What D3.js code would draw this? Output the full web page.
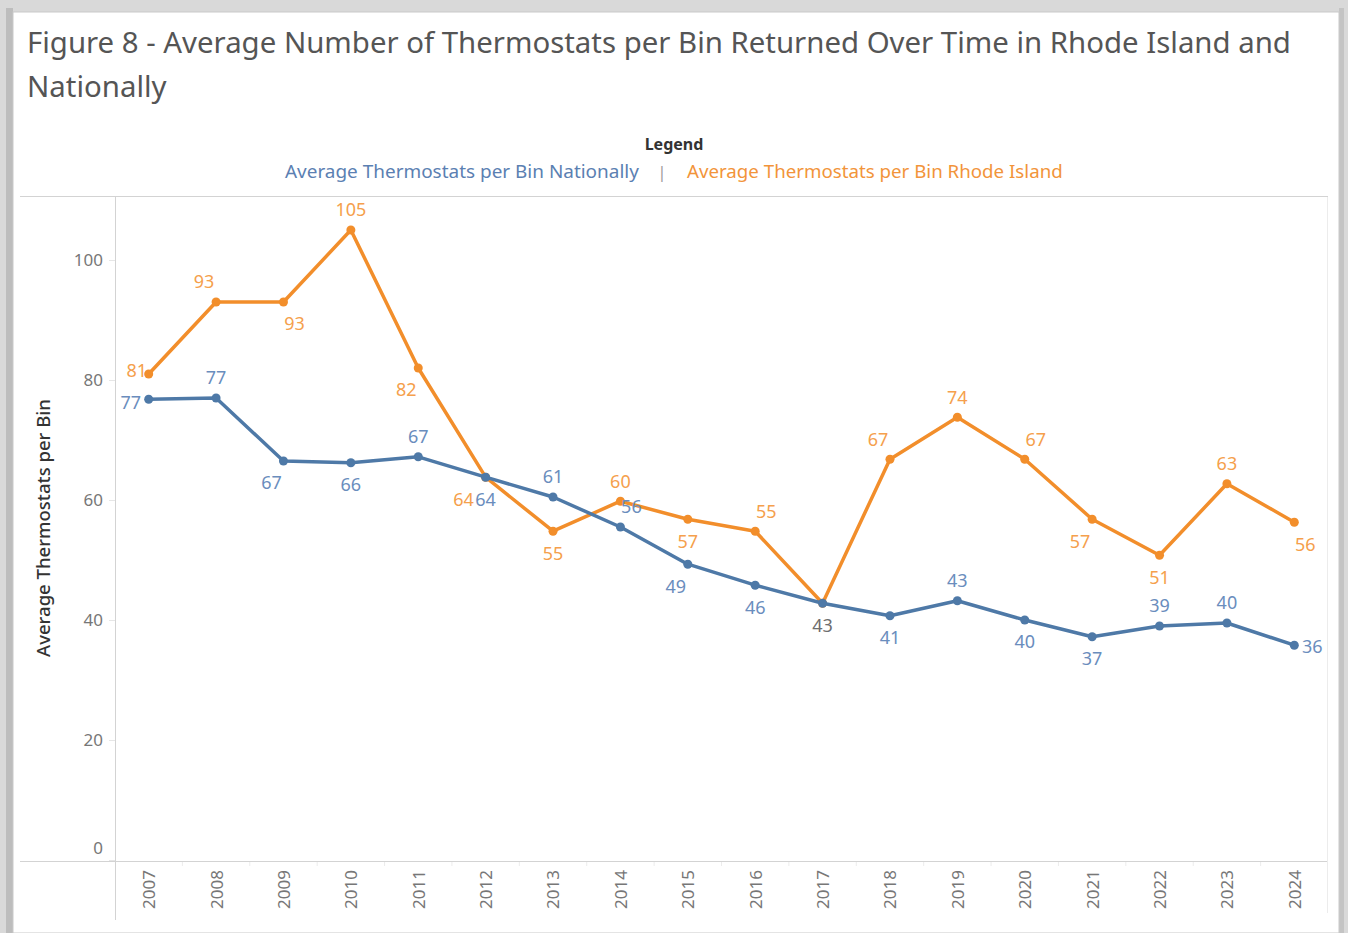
<meta charset="utf-8">
<html>
<head>
  <script src="https://d3js.org/d3.v7.min.js"></script>
  <style>
    body { margin: 0; background: #d4d4d4; overflow: hidden; }
    text { font-family: "Noto Sans", "Open Sans", sans-serif; }
  </style>
</head>
<body>
  <svg id="svg" width="1348" height="933"></svg>
  <script>
    // data
    let years = ["2007", "2008", "2009", "2010", "2011", "2012", "2013", "2014", "2015",
                 "2016", "2017", "2018", "2019", "2020", "2021", "2022", "2023", "2024"];
    let national = [76.8, 77.0, 66.5, 66.2, 67.2, 63.8, 60.5, 55.5, 49.3, 45.8, 42.8, 40.7, 43.2, 40.0, 37.2, 39.0, 39.5, 35.8];
    let rhodeIsland = [81.0, 93.0, 93.0, 105.0, 82.0, 63.8, 54.8, 59.8, 56.8, 54.8, 42.8, 66.8, 73.8, 66.8, 56.8, 50.8, 62.7, 56.3];
    let yTicks = [0, 20, 40, 60, 80, 100];
    // label placement codes (t = above, b = below, second letter l/r = side shift, L = far left, h = hidden)
    let nationalLabelPos = ["l", "t", "bl", "b", "t", "b", "t", "tr", "bl", "b", "b", "b", "t", "b", "b", "t", "t", "r"];
    let rhodeLabelPos = ["lo", "tl", "br", "t", "bl", "bL", "b", "t", "b", "tr", "h", "tl", "t", "tr", "bl", "b", "t", "br"];

    let svg = d3.select("#svg");

    // card with shadow-ish frame
    svg.append("rect").attr("x", 0).attr("y", 0).attr("width", 1348).attr("height", 933).attr("fill", "#d9d9d9");
    svg.append("rect").attr("x", 6).attr("y", 8).attr("width", 7).attr("height", 925).attr("fill", "#bdbdbd");
    svg.append("rect").attr("x", 1339).attr("y", 8).attr("width", 5).attr("height", 925).attr("fill", "#c4c4c4");
    svg.append("rect").attr("x", 13).attr("y", 12).attr("width", 1326).attr("height", 921)
      .attr("fill", "#fff").attr("stroke", "#c9c9c9").attr("stroke-width", 1);

    function fitText(sel, target) {
      let w = sel.node().getComputedTextLength();
      let fs = parseFloat(sel.attr("font-size"));
      sel.attr("font-size", fs * target / w);
    }

    // title
    let t1 = svg.append("text").attr("x", 27).attr("y", 53).attr("font-size", 28).attr("fill", "#555")
      .text("Figure 8 - Average Number of Thermostats per Bin Returned Over Time in Rhode Island and");
    fitText(t1, 1265);
    svg.append("text").attr("x", 27).attr("y", 97).attr("font-size", t1.attr("font-size")).attr("fill", "#555")
      .text("Nationally");

    // legend
    svg.append("text").attr("x", 674).attr("y", 150).attr("text-anchor", "middle")
      .attr("font-size", 16).attr("font-weight", "bold").attr("fill", "#333").text("Legend");
    let l1 = svg.append("text").attr("x", 285).attr("y", 178).attr("font-size", 16).attr("fill", "#5b80b2")
      .text("Average Thermostats per Bin Nationally");
    fitText(l1, 354);
    svg.append("text").attr("x", 662).attr("y", 178).attr("text-anchor", "middle")
      .attr("font-size", 16).attr("fill", "#999").text("|");
    let l2 = svg.append("text").attr("x", 687).attr("y", 178).attr("font-size", 16).attr("fill", "#f2943a")
      .text("Average Thermostats per Bin Rhode Island");
    fitText(l2, 376);

    // scales
    let x = d3.scalePoint().domain(years).range([115, 1328]).padding(0.5);
    let y = d3.scaleLinear().domain([0, 100]).range([860, 260]);

    // frame lines
    let axisColor = "#d3d3d3";
    svg.append("line").attr("x1", 20).attr("x2", 1328).attr("y1", 196.5).attr("y2", 196.5).attr("stroke", axisColor);
    svg.append("line").attr("x1", 20).attr("x2", 1328).attr("y1", 861.5).attr("y2", 861.5).attr("stroke", axisColor);
    svg.append("line").attr("x1", 115.5).attr("x2", 115.5).attr("y1", 197).attr("y2", 920).attr("stroke", axisColor);
    svg.append("line").attr("x1", 1327.5).attr("x2", 1327.5).attr("y1", 197).attr("y2", 913).attr("stroke", "#ececec");

    // y axis
    let yAxis = svg.append("g").attr("transform", "translate(115,0)")
      .call(d3.axisLeft(y).tickValues(yTicks).tickSize(6).tickPadding(6));
    yAxis.select(".domain").remove();
    yAxis.selectAll(".tick line").attr("stroke", "#e6e6e6");
    yAxis.selectAll(".tick text").attr("font-size", 17).attr("fill", "#777")
      .attr("font-family", "\"Noto Sans\", sans-serif")
      .attr("dy", d => d === 0 ? "-0.4em" : "0.32em");
    let yTitle = svg.append("text").attr("transform", "translate(50,528) rotate(-90)").attr("text-anchor", "middle")
      .attr("font-size", 15).attr("font-weight", 500).attr("fill", "#333")
      .text("Average Thermostats per Bin");
    fitText(yTitle, 258);

    // x axis
    let step = x.step();
    let xAxis = svg.append("g").attr("transform", "translate(0,861)")
      .call(d3.axisBottom(x).tickSize(0).tickPadding(0));
    xAxis.select(".domain").remove();
    xAxis.selectAll(".tick text")
      .attr("font-size", 17).attr("fill", "#777").attr("font-family", "\"Noto Sans\", sans-serif")
      .attr("text-anchor", "end").attr("dy", "0.35em")
      .attr("transform", "translate(0,9) rotate(-90)");
    svg.append("g").selectAll("line").data(years.slice(1)).join("line")
      .attr("x1", d => x(d) - step / 2).attr("x2", d => x(d) - step / 2)
      .attr("y1", 862).attr("y2", 866).attr("stroke", "#ececec");

    // series
    let series = [
      {name: "RI", values: rhodeIsland, pos: rhodeLabelPos, line: "#f28e2b", label: "#f5a04c"},
      {name: "National", values: national, pos: nationalLabelPos, line: "#4e79a7", label: "#6a8dbd"}
    ];
    let line = d3.line().x((d, i) => x(years[i])).y(d => y(d));

    series.forEach(s => {
      let g = svg.append("g");
      g.append("path").datum(s.values).attr("d", line)
        .attr("fill", "none").attr("stroke", s.line).attr("stroke-width", 3.5).attr("stroke-linejoin", "round");
      g.selectAll("circle").data(s.values).join("circle")
        .attr("cx", (d, i) => x(years[i])).attr("cy", d => y(d)).attr("r", 4.5).attr("fill", s.line);
    });

    function labelOffset(code) {
      let dx = 0, dy = 0;
      if (code.includes("t")) dy = -20;
      if (code.includes("b")) dy = 22;
      if (code === "l") { dx = -18; dy = 3; }
      if (code === "lo") { dx = -12; dy = -3; }
      if (code === "r") { dx = 18; dy = 1; }
      if (code.length === 2 && code !== "lo") {
        if (code[1] === "l") dx = -12;
        if (code[1] === "L") dx = -22;
        if (code[1] === "r") dx = 11;
      }
      return [dx, dy];
    }

    // orange labels first, blue on top
    series.forEach(s => {
      let pts = s.values.map((v, i) => ({v: v, year: years[i], pos: s.pos[i]})).filter(p => p.pos !== "h");
      svg.append("g").selectAll("text").data(pts).join("text")
        .attr("x", p => x(p.year) + labelOffset(p.pos)[0])
        .attr("y", p => y(p.v) + labelOffset(p.pos)[1])
        .attr("dy", "0.35em")
        .attr("text-anchor", "middle")
        .attr("font-size", 18)
        .attr("fill", p => (s.name === "National" && p.year === "2017") ? "#6e6e6e" : s.label)
        .text(p => Math.round(p.v));
    });
  </script>
</body>
</html>
